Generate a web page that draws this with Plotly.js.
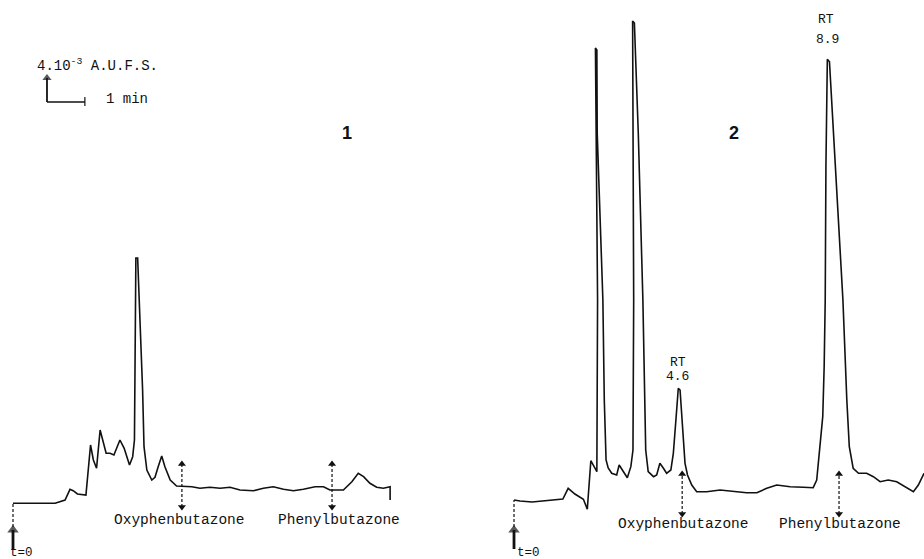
<!DOCTYPE html>
<html>
<head>
<meta charset="utf-8">
<script src="https://cdn.plot.ly/plotly-3.0.1.min.js"></script>
<style>html,body{margin:0;padding:0;background:#fff;}#chart{width:924px;height:559px;}</style>
</head>
<body>
<div id="chart"></div>
<script>
// Chromatogram 1 (blank): time in min, detector response (arbitrary units)
const time1 = [0.00,0.20,0.76,1.19,1.47,1.61,1.70,1.82,2.06,2.11,2.19,2.27,2.36,2.46,2.55,2.63,2.74,2.85,3.02,3.14,3.29,3.38,3.43,3.47,3.52,3.59,3.66,3.70,3.78,3.92,4.01,4.10,4.20,4.29,4.44,4.62,4.86,5.05,5.28,5.56,5.85,6.13,6.41,6.79,7.07,7.35,7.64,7.92,8.20,8.53,8.77,8.95,9.33,9.57,9.75,9.90,10.08,10.27,10.46,10.65,10.65];
const signal1 = [0.67,0.67,0.60,0.67,1.00,2.07,1.93,1.60,1.50,3.70,6.50,5.00,4.17,8.00,6.67,5.67,5.67,5.50,7.00,6.17,4.50,5.33,7.00,25.2,25.2,18.7,12.0,6.33,4.00,3.00,3.27,4.33,5.40,4.33,3.00,2.40,2.33,2.33,2.17,2.27,2.17,2.27,2.00,1.93,2.17,2.33,2.07,1.93,2.07,2.33,2.33,2.00,2.00,2.83,3.67,3.33,2.67,2.27,2.17,2.33,1.00];

// Chromatogram 2 (spiked sample)
const time2 = [0.00,0.17,0.51,0.88,1.38,1.53,1.72,1.96,2.07,2.17,2.34,2.36,2.32,2.30,2.34,2.35,2.51,2.55,2.60,2.66,2.76,2.90,2.97,3.09,3.20,3.30,3.36,3.38,3.35,3.35,3.40,3.51,3.64,3.68,3.72,3.79,3.94,4.03,4.12,4.22,4.31,4.43,4.50,4.58,4.64,4.69,4.77,4.83,4.90,5.02,5.16,5.44,5.82,6.19,6.57,6.86,7.14,7.42,7.80,8.17,8.45,8.55,8.64,8.72,8.76,8.79,8.81,8.85,8.91,9.07,9.29,9.40,9.47,9.58,9.73,9.96,10.15,10.34,10.57,10.81,11.05,11.28,11.42,11.58];
const signal2 = [1.00,0.90,0.80,0.90,1.10,2.17,1.60,1.07,0.07,4.93,3.83,21.0,37.7,46.2,46.0,37.7,21.0,11.0,5.0,4.2,3.67,3.50,4.50,3.83,3.23,4.33,6.0,21.0,41.0,48.9,48.7,37.7,21.0,11.0,6.0,3.83,3.33,3.50,4.67,4.17,3.67,4.00,5.67,9.33,12.17,12.0,8.33,4.67,3.50,2.50,1.83,1.83,2.00,1.90,1.73,1.73,2.17,2.50,2.33,2.27,2.23,3.00,6.00,9.33,14.33,21.0,34.33,45.07,44.83,34.33,21.0,11.0,6.33,4.17,3.67,3.67,3.33,2.83,3.00,2.83,2.33,1.83,2.50,3.67];

// Marker labels and expected retention positions (min)
const compoundNames = ["Oxyphenbutazone", "Phenylbutazone"];
const markTimes1 = [4.77, 9.01];
const markTimes2 = [4.75, 9.18];
const rtValues = ["4.6", "8.9"];

const MONO = "Liberation Mono, Courier New, monospace";
const blk = "#111";

const traces = [
  {x: time1, y: signal1, xaxis: "x", yaxis: "y", mode: "lines", line: {color: blk, width: 1.6}, hoverinfo: "skip"},
  {x: time2, y: signal2, xaxis: "x2", yaxis: "y", mode: "lines", line: {color: blk, width: 1.6}, hoverinfo: "skip"}
];

function markerArrow(t, axis, lo, hi) {
  return {x: [t, t], y: [lo, hi], xaxis: axis, yaxis: "y", mode: "lines+markers",
    line: {color: blk, width: 1.2, dash: "3px,2px"},
    marker: {symbol: ["triangle-down", "triangle-up"], size: 7, color: blk},
    hoverinfo: "skip"};
}
markTimes1.forEach(t => traces.push(markerArrow(t, "x", 0.3, 4.6)));
markTimes2.forEach(t => traces.push(markerArrow(t, "x2", -0.4, 3.6)));

function upArrow(x, axis, lo, hi, w, s) {
  return {x: [x, x], y: [lo, hi], xaxis: axis, yaxis: "y", mode: "lines+markers",
    line: {color: blk, width: w},
    marker: {symbol: "triangle-up", size: [0, s], color: blk, line: {width: 0}},
    hoverinfo: "skip"};
}
// injection arrows (t=0)
traces.push(upArrow(0, "x", -3.9, -2.0, 2.8, 10));
traces.push(upArrow(0, "x2", -3.9, -2.0, 2.8, 10));
// scale-bar vertical arrow
traces.push(upArrow(0.96, "x", 40.8, 43.2, 1.8, 8));

const shapes = [
  // t=0 dashed connectors
  {type: "line", xref: "x", yref: "y", x0: 0, x1: 0, y0: -1.7, y1: 0.67, line: {color: blk, width: 1.2, dash: "3px,2px"}},
  {type: "line", xref: "x2", yref: "y", x0: 0, x1: 0, y0: -1.7, y1: 1.0, line: {color: blk, width: 1.2, dash: "3px,2px"}},
  // scale bar
  {type: "line", xref: "x", yref: "y", x0: 0.96, x1: 2.03, y0: 40.8, y1: 40.8, line: {color: blk, width: 1.6}},
  {type: "line", xref: "x", yref: "y", x0: 2.03, x1: 2.03, y0: 40.4, y1: 41.3, line: {color: blk, width: 1.2}}
];

const annotations = [];
function txt(x, y, xref, text, opts) {
  annotations.push(Object.assign({x: x, y: y, xref: xref, yref: "y", text: text, showarrow: false,
    font: {family: MONO, size: 14.5, color: blk}}, opts || {}));
}
// compound labels
compoundNames.forEach((n, i) => {
  txt(markTimes1[i] - 0.07 + (i ? 0.27 : 0), -1.0, "x", n);
  txt(markTimes2[i] + 0.03, -1.4, "x2", n);
});
// RT labels
const rtFont = {family: MONO, size: 13, color: blk};
txt(4.62, 14.8, "x2", "RT", {font: rtFont});
txt(4.62, 13.4, "x2", rtValues[0], {font: rtFont});
txt(8.80, 49.1, "x2", "RT", {font: rtFont});
txt(8.86, 47.1, "x2", rtValues[1], {font: rtFont});
// panel numbers
txt(9.44, 37.7, "x", "<b>1</b>", {font: {family: "Liberation Sans, Arial, sans-serif", size: 18, color: blk}});
txt(6.21, 37.7, "x2", "<b>2</b>", {font: {family: "Liberation Sans, Arial, sans-serif", size: 18, color: blk}});
// t=0
txt(-0.15, -4.25, "x", "t=0", {xanchor: "left", font: {family: MONO, size: 12.5, color: blk}});
txt(0.02, -4.25, "x2", "t=0", {xanchor: "left", font: {family: MONO, size: 12.5, color: blk}});
// scale labels
txt(0.62, 44.5, "x", "4.10<sup>-3</sup> A.U.F.S.", {xanchor: "left", font: {family: MONO, size: 14, color: blk}});
txt(2.58, 41.1, "x", "1 min", {xanchor: "left", font: {family: MONO, size: 14, color: blk}});

const layout = {
  width: 924, height: 559,
  margin: {l: 0, r: 0, t: 0, b: 0, pad: 0},
  paper_bgcolor: "#fff", plot_bgcolor: "#fff",
  showlegend: false,
  xaxis: {domain: [0, 0.5], range: [-0.367, 12.68], visible: false, fixedrange: true},
  xaxis2: {domain: [0.5, 1], range: [-1.469, 11.58], visible: false, fixedrange: true, anchor: "y"},
  yaxis: {domain: [0, 1], range: [-4.9, 51], visible: false, fixedrange: true},
  shapes: shapes,
  annotations: annotations
};

Plotly.newPlot("chart", traces, layout, {staticPlot: true, displayModeBar: false});
</script>
</body>
</html>
